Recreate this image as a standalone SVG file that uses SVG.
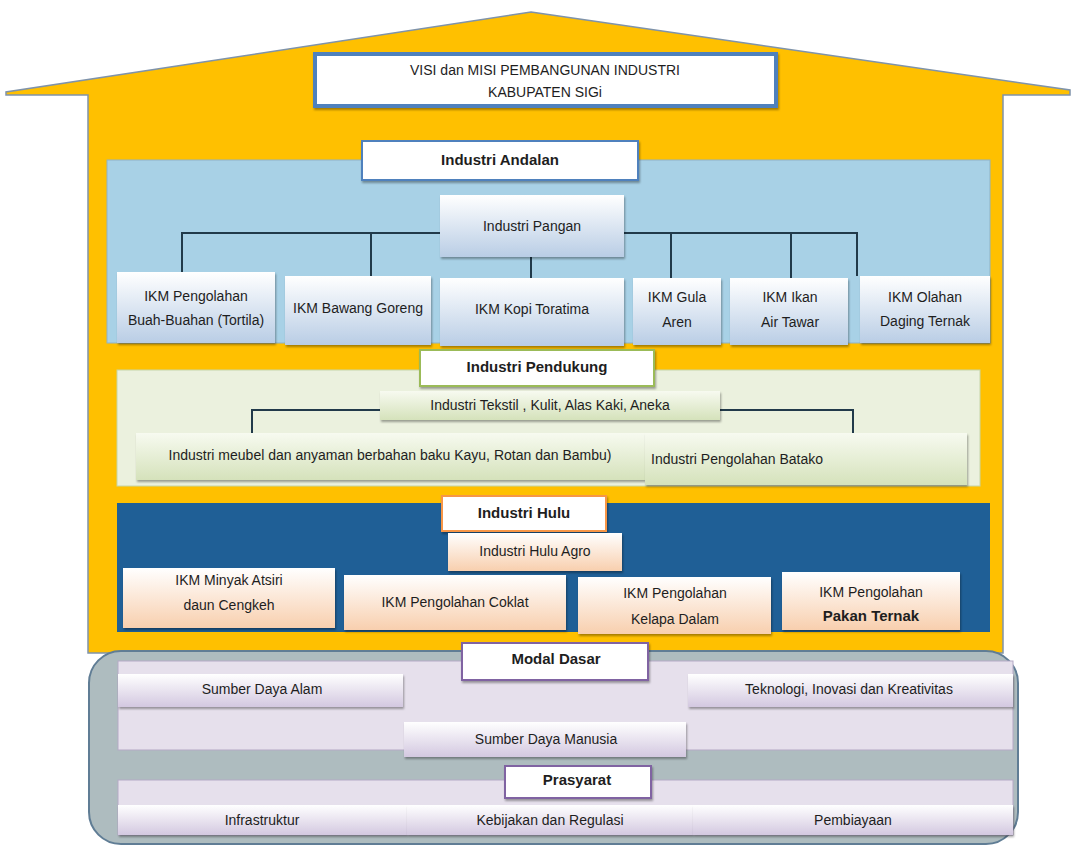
<svg xmlns="http://www.w3.org/2000/svg" width="1072" height="845" viewBox="0 0 1072 845">
<defs>
<linearGradient id="gBlue" x1="0" y1="0" x2="0" y2="1"><stop offset="0" stop-color="#ffffff"/><stop offset="1" stop-color="#b9cde5"/></linearGradient>
<linearGradient id="gGreen" x1="0" y1="0" x2="0" y2="1"><stop offset="0" stop-color="#f7faf0"/><stop offset="1" stop-color="#d5e2bb"/></linearGradient>
<linearGradient id="gPeach" x1="0" y1="0" x2="0" y2="1"><stop offset="0" stop-color="#ffffff"/><stop offset="1" stop-color="#f8cfae"/></linearGradient>
<linearGradient id="gLav" x1="0" y1="0" x2="0" y2="1"><stop offset="0" stop-color="#ffffff"/><stop offset="1" stop-color="#d3c8e0"/></linearGradient>
<filter id="sh" x="-10%" y="-10%" width="120%" height="130%"><feDropShadow dx="1" dy="2" stdDeviation="1.2" flood-color="#000" flood-opacity="0.35"/></filter>
<style>
text{font-family:"Liberation Sans Narrow","Liberation Sans",Arial,sans-serif;font-size:14px;fill:#1e1e1e;text-anchor:middle;dominant-baseline:middle}
.h{font-weight:bold;font-size:15px}
.bx{stroke:none;filter:url(#sh)}
.blue{fill:url(#gBlue)}
.green{fill:url(#gGreen)}
.peach{fill:url(#gPeach)}
.lav{fill:url(#gLav)}
.ln{stroke:#213a4a;stroke-width:2;fill:none}
</style>
</defs>
<rect width="1072" height="845" fill="#ffffff"/>

<!-- house -->
<g id="house">
<polygon points="531,12 1070,90 1070,95 1003,95 1003,653 88,653 88,95 6,95 6,92" fill="#ffc000" stroke="#7f93aa" stroke-width="1.5"/>
</g>

<g id="visi">
<rect x="315" y="54" width="461" height="52" fill="#ffffff" stroke="#4f81bd" stroke-width="4" filter="url(#sh)"/>
<text x="545" y="71">VISI dan MISI PEMBANGUNAN INDUSTRI</text>
<text x="545" y="93">KABUPATEN SIGi</text>
</g>

<!-- panels -->
<rect id="panel-andalan" x="107" y="160" width="883" height="183" fill="#a8d1e6" stroke="#8fb2c6"/>
<rect id="panel-pendukung" x="117" y="370" width="863" height="116" fill="#ebf1de" stroke="#c5d5a8"/>
<rect id="panel-hulu" x="117" y="503" width="873" height="129" fill="#1f5f96"/>
<rect id="panel-modal-outer" x="89" y="651" width="929" height="193" rx="32" fill="#aebcbf" stroke="#607d95" stroke-width="2"/>
<rect id="panel-modal" x="118" y="661" width="895" height="89" fill="#e6e0ec" stroke="#b4a9c5"/>
<rect id="panel-prasyarat" x="118" y="780" width="895" height="55" fill="#e6e0ec" stroke="#b4a9c5"/>

<!-- connectors -->
<g id="connectors">
<path class="ln" d="M182,272 V233 H440 M624,233 H857 V276 M371,233 V280 M671,233 V280 M791,233 V280"/>
<path class="ln" d="M531,257 V282" stroke="#3b7da6"/>
<path class="ln" d="M380,410 H252 V435 M720,410 H853 V435"/>
</g>

<g id="andalan">
<rect x="362" y="141" width="276" height="39" fill="#ffffff" stroke="#4f81bd" stroke-width="2" filter="url(#sh)"/>
<text class="h" x="500" y="161">Industri Andalan</text>
</g>
<g id="pangan"><rect class="bx blue" x="440" y="195" width="184" height="62"/><text x="532" y="227">Industri Pangan</text></g>
<g id="buah"><rect class="bx blue" x="117" y="272" width="158" height="71"/><text x="196" y="297">IKM Pengolahan</text><text x="196" y="321">Buah-Buahan (Tortila)</text></g>
<g id="bawang"><rect class="bx blue" x="285" y="276" width="146" height="69"/><text x="358" y="309">IKM Bawang Goreng</text></g>
<g id="kopi"><rect class="bx blue" x="440" y="278" width="184" height="68"/><text x="532" y="310">IKM Kopi Toratima</text></g>
<g id="gula"><rect class="bx blue" x="633" y="278" width="88" height="67"/><text x="677" y="298">IKM Gula</text><text x="677" y="323">Aren</text></g>
<g id="ikan"><rect class="bx blue" x="730" y="278" width="118" height="67"/><text x="790" y="298">IKM Ikan</text><text x="790" y="323">Air Tawar</text></g>
<g id="daging"><rect class="bx blue" x="860" y="276" width="130" height="67"/><text x="925" y="298">IKM Olahan</text><text x="925" y="322">Daging Ternak</text></g>

<g id="pendukung">
<rect x="420" y="350" width="234" height="36" fill="#ffffff" stroke="#9bbb59" stroke-width="2" filter="url(#sh)"/>
<text class="h" x="537" y="368">Industri Pendukung</text>
</g>
<g id="tekstil"><rect class="bx green" x="380" y="391" width="340" height="29"/><text x="550" y="406">Industri Tekstil , Kulit, Alas Kaki, Aneka</text></g>
<g id="meubel"><rect class="bx green" x="136" y="433" width="509" height="47"/><text x="390" y="456">Industri meubel dan anyaman berbahan baku Kayu, Rotan dan Bambu)</text></g>
<g id="batako"><rect class="bx green" x="645" y="433" width="322" height="52"/><text x="651" y="460" style="text-anchor:start">Industri Pengolahan Batako</text></g>

<g id="hulu">
<rect x="442" y="496" width="164" height="35" fill="#ffffff" stroke="#f79646" stroke-width="2" filter="url(#sh)"/>
<text class="h" x="524" y="514">Industri Hulu</text>
</g>
<g id="huluagro"><rect class="bx peach" x="448" y="533" width="174" height="38"/><text x="535" y="552">Industri Hulu Agro</text></g>
<g id="atsiri"><rect class="bx peach" x="123" y="568" width="212" height="60"/><text x="229" y="581">IKM Minyak Atsiri</text><text x="229" y="606">daun Cengkeh</text></g>
<g id="coklat"><rect class="bx peach" x="344" y="575" width="222" height="55"/><text x="455" y="603">IKM Pengolahan Coklat</text></g>
<g id="kelapa"><rect class="bx peach" x="578" y="577" width="193" height="57"/><text x="675" y="594">IKM Pengolahan</text><text x="675" y="620">Kelapa Dalam</text></g>
<g id="pakan"><rect class="bx peach" x="782" y="572" width="178" height="58"/><text x="871" y="593">IKM Pengolahan</text><text class="h" x="871" y="617" style="font-weight:bold">Pakan Ternak</text></g>

<g id="modal">
<rect x="462" y="643" width="186" height="37" fill="#ffffff" stroke="#8064a2" stroke-width="2" filter="url(#sh)"/>
<text class="h" x="556" y="660">Modal Dasar</text>
</g>
<g id="sda"><rect class="bx lav" x="118" y="674" width="285" height="33"/><text x="262" y="690">Sumber Daya  Alam</text></g>
<g id="teknologi"><rect class="bx lav" x="688" y="674" width="325" height="33"/><text x="849" y="690">Teknologi, Inovasi dan Kreativitas</text></g>
<g id="sdm"><rect class="bx lav" x="404" y="722" width="282" height="35"/><text x="546" y="740">Sumber Daya Manusia</text></g>

<g id="prasyarat">
<rect x="505" y="766" width="146" height="32" fill="#ffffff" stroke="#8064a2" stroke-width="2" filter="url(#sh)"/>
<text class="h" x="577" y="781">Prasyarat</text>
</g>
<g id="infra"><rect class="bx lav" x="118" y="805" width="289" height="30" stroke="#b4a9c5"/><text x="262" y="821">Infrastruktur</text></g>
<g id="kebijakan"><rect class="bx lav" x="407" y="805" width="286" height="30"/><text x="550" y="821">Kebijakan dan Regulasi</text></g>
<g id="biaya"><rect class="bx lav" x="693" y="805" width="320" height="30"/><text x="853" y="821">Pembiayaan</text></g>
</svg>
